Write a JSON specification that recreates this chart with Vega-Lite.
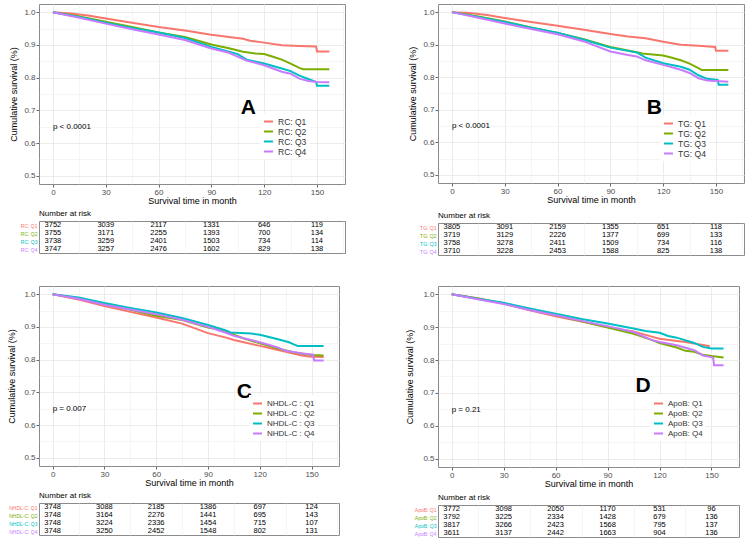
{
"$schema": "https://vega.github.io/schema/vega-lite/v6.json",
"padding": {"left": 7, "top": 3, "right": 0, "bottom": 0},
"config": {
  "font": "Liberation Sans",
  "view": {"stroke": "#8a8a8a", "strokeWidth": 1},
  "axis": {"labelFontSize": 8, "labelColor": "#4d4d4d", "titleFontSize": 9, "titleFontWeight": "normal", "titleColor": "#000000", "tickColor": "#666666", "tickSize": 3, "domain": false, "gridColor": "#ebebeb", "labelPadding": 1, "labelOverlap": false, "labelFlush": false},
  "legend": {"title": null, "symbolType": "stroke", "symbolStrokeWidth": 2, "symbolSize": 81, "labelFontSize": 8.5, "labelColor": "#333333", "rowPadding": 0, "labelOffset": 4, "fillColor": "white", "padding": 3, "orient": "none"},
  "title": {"fontSize": 8, "fontWeight": "normal", "color": "#000000", "anchor": "start", "frame": "group", "offset": 3}
},
"datasets": {
  "curves": [
    {"p":"A","g":"RC: Q1","t":0,"s":1},{"p":"A","g":"RC: Q1","t":10,"s":0.996},{"p":"A","g":"RC: Q1","t":20,"s":0.99},{"p":"A","g":"RC: Q1","t":30,"s":0.981},{"p":"A","g":"RC: Q1","t":45,"s":0.968},{"p":"A","g":"RC: Q1","t":60,"s":0.955},{"p":"A","g":"RC: Q1","t":75,"s":0.944},{"p":"A","g":"RC: Q1","t":90,"s":0.931},{"p":"A","g":"RC: Q1","t":100,"s":0.924},{"p":"A","g":"RC: Q1","t":108,"s":0.919},{"p":"A","g":"RC: Q1","t":112,"s":0.913},{"p":"A","g":"RC: Q1","t":120,"s":0.907},{"p":"A","g":"RC: Q1","t":130,"s":0.899},{"p":"A","g":"RC: Q1","t":140,"s":0.897},{"p":"A","g":"RC: Q1","t":149.5,"s":0.895},{"p":"A","g":"RC: Q1","t":150,"s":0.88},{"p":"A","g":"RC: Q1","t":157,"s":0.88},
    {"p":"A","g":"RC: Q2","t":0,"s":1},{"p":"A","g":"RC: Q2","t":15,"s":0.987},{"p":"A","g":"RC: Q2","t":30,"s":0.971},{"p":"A","g":"RC: Q2","t":45,"s":0.955},{"p":"A","g":"RC: Q2","t":60,"s":0.938},{"p":"A","g":"RC: Q2","t":75,"s":0.924},{"p":"A","g":"RC: Q2","t":90,"s":0.901},{"p":"A","g":"RC: Q2","t":100,"s":0.89},{"p":"A","g":"RC: Q2","t":108,"s":0.879},{"p":"A","g":"RC: Q2","t":115,"s":0.874},{"p":"A","g":"RC: Q2","t":120,"s":0.872},{"p":"A","g":"RC: Q2","t":125,"s":0.864},{"p":"A","g":"RC: Q2","t":130,"s":0.855},{"p":"A","g":"RC: Q2","t":135,"s":0.843},{"p":"A","g":"RC: Q2","t":140,"s":0.83},{"p":"A","g":"RC: Q2","t":142,"s":0.826},{"p":"A","g":"RC: Q2","t":157,"s":0.826},
    {"p":"A","g":"RC: Q3","t":0,"s":1},{"p":"A","g":"RC: Q3","t":15,"s":0.985},{"p":"A","g":"RC: Q3","t":30,"s":0.968},{"p":"A","g":"RC: Q3","t":45,"s":0.952},{"p":"A","g":"RC: Q3","t":60,"s":0.938},{"p":"A","g":"RC: Q3","t":75,"s":0.921},{"p":"A","g":"RC: Q3","t":90,"s":0.894},{"p":"A","g":"RC: Q3","t":100,"s":0.879},{"p":"A","g":"RC: Q3","t":105,"s":0.872},{"p":"A","g":"RC: Q3","t":110,"s":0.855},{"p":"A","g":"RC: Q3","t":120,"s":0.843},{"p":"A","g":"RC: Q3","t":130,"s":0.828},{"p":"A","g":"RC: Q3","t":135,"s":0.82},{"p":"A","g":"RC: Q3","t":140,"s":0.806},{"p":"A","g":"RC: Q3","t":145,"s":0.796},{"p":"A","g":"RC: Q3","t":149.5,"s":0.787},{"p":"A","g":"RC: Q3","t":150,"s":0.775},{"p":"A","g":"RC: Q3","t":157,"s":0.775},
    {"p":"A","g":"RC: Q4","t":0,"s":1},{"p":"A","g":"RC: Q4","t":15,"s":0.983},{"p":"A","g":"RC: Q4","t":30,"s":0.965},{"p":"A","g":"RC: Q4","t":45,"s":0.948},{"p":"A","g":"RC: Q4","t":60,"s":0.932},{"p":"A","g":"RC: Q4","t":75,"s":0.915},{"p":"A","g":"RC: Q4","t":90,"s":0.889},{"p":"A","g":"RC: Q4","t":100,"s":0.876},{"p":"A","g":"RC: Q4","t":110,"s":0.852},{"p":"A","g":"RC: Q4","t":120,"s":0.838},{"p":"A","g":"RC: Q4","t":130,"s":0.818},{"p":"A","g":"RC: Q4","t":135,"s":0.812},{"p":"A","g":"RC: Q4","t":140,"s":0.797},{"p":"A","g":"RC: Q4","t":145,"s":0.79},{"p":"A","g":"RC: Q4","t":150,"s":0.787},{"p":"A","g":"RC: Q4","t":157,"s":0.786},

    {"p":"B","g":"TG: Q1","t":0,"s":1},{"p":"B","g":"TG: Q1","t":10,"s":0.997},{"p":"B","g":"TG: Q1","t":20,"s":0.991},{"p":"B","g":"TG: Q1","t":30,"s":0.982},{"p":"B","g":"TG: Q1","t":45,"s":0.97},{"p":"B","g":"TG: Q1","t":60,"s":0.958},{"p":"B","g":"TG: Q1","t":75,"s":0.946},{"p":"B","g":"TG: Q1","t":90,"s":0.933},{"p":"B","g":"TG: Q1","t":100,"s":0.925},{"p":"B","g":"TG: Q1","t":110,"s":0.92},{"p":"B","g":"TG: Q1","t":120,"s":0.909},{"p":"B","g":"TG: Q1","t":130,"s":0.9},{"p":"B","g":"TG: Q1","t":140,"s":0.897},{"p":"B","g":"TG: Q1","t":149.5,"s":0.893},{"p":"B","g":"TG: Q1","t":150,"s":0.881},{"p":"B","g":"TG: Q1","t":157,"s":0.881},
    {"p":"B","g":"TG: Q2","t":0,"s":1},{"p":"B","g":"TG: Q2","t":15,"s":0.987},{"p":"B","g":"TG: Q2","t":30,"s":0.971},{"p":"B","g":"TG: Q2","t":45,"s":0.953},{"p":"B","g":"TG: Q2","t":60,"s":0.936},{"p":"B","g":"TG: Q2","t":75,"s":0.917},{"p":"B","g":"TG: Q2","t":90,"s":0.893},{"p":"B","g":"TG: Q2","t":100,"s":0.882},{"p":"B","g":"TG: Q2","t":105,"s":0.877},{"p":"B","g":"TG: Q2","t":108,"s":0.873},{"p":"B","g":"TG: Q2","t":120,"s":0.867},{"p":"B","g":"TG: Q2","t":125,"s":0.86},{"p":"B","g":"TG: Q2","t":130,"s":0.852},{"p":"B","g":"TG: Q2","t":135,"s":0.842},{"p":"B","g":"TG: Q2","t":140,"s":0.828},{"p":"B","g":"TG: Q2","t":142,"s":0.822},{"p":"B","g":"TG: Q2","t":157,"s":0.822},
    {"p":"B","g":"TG: Q3","t":0,"s":1},{"p":"B","g":"TG: Q3","t":15,"s":0.985},{"p":"B","g":"TG: Q3","t":30,"s":0.97},{"p":"B","g":"TG: Q3","t":45,"s":0.952},{"p":"B","g":"TG: Q3","t":60,"s":0.937},{"p":"B","g":"TG: Q3","t":75,"s":0.915},{"p":"B","g":"TG: Q3","t":90,"s":0.891},{"p":"B","g":"TG: Q3","t":100,"s":0.881},{"p":"B","g":"TG: Q3","t":105,"s":0.876},{"p":"B","g":"TG: Q3","t":110,"s":0.86},{"p":"B","g":"TG: Q3","t":120,"s":0.843},{"p":"B","g":"TG: Q3","t":130,"s":0.832},{"p":"B","g":"TG: Q3","t":135,"s":0.823},{"p":"B","g":"TG: Q3","t":140,"s":0.806},{"p":"B","g":"TG: Q3","t":145,"s":0.795},{"p":"B","g":"TG: Q3","t":151,"s":0.792},{"p":"B","g":"TG: Q3","t":151.5,"s":0.777},{"p":"B","g":"TG: Q3","t":157,"s":0.777},
    {"p":"B","g":"TG: Q4","t":0,"s":1},{"p":"B","g":"TG: Q4","t":15,"s":0.983},{"p":"B","g":"TG: Q4","t":30,"s":0.965},{"p":"B","g":"TG: Q4","t":45,"s":0.948},{"p":"B","g":"TG: Q4","t":60,"s":0.932},{"p":"B","g":"TG: Q4","t":75,"s":0.91},{"p":"B","g":"TG: Q4","t":90,"s":0.879},{"p":"B","g":"TG: Q4","t":100,"s":0.868},{"p":"B","g":"TG: Q4","t":105,"s":0.864},{"p":"B","g":"TG: Q4","t":110,"s":0.852},{"p":"B","g":"TG: Q4","t":120,"s":0.838},{"p":"B","g":"TG: Q4","t":130,"s":0.823},{"p":"B","g":"TG: Q4","t":135,"s":0.813},{"p":"B","g":"TG: Q4","t":140,"s":0.797},{"p":"B","g":"TG: Q4","t":145,"s":0.79},{"p":"B","g":"TG: Q4","t":157,"s":0.786},

    {"p":"C","g":"NHDL-C : Q1","t":0,"s":1},{"p":"C","g":"NHDL-C : Q1","t":15,"s":0.984},{"p":"C","g":"NHDL-C : Q1","t":30,"s":0.964},{"p":"C","g":"NHDL-C : Q1","t":45,"s":0.946},{"p":"C","g":"NHDL-C : Q1","t":60,"s":0.929},{"p":"C","g":"NHDL-C : Q1","t":75,"s":0.91},{"p":"C","g":"NHDL-C : Q1","t":90,"s":0.881},{"p":"C","g":"NHDL-C : Q1","t":100,"s":0.868},{"p":"C","g":"NHDL-C : Q1","t":105,"s":0.86},{"p":"C","g":"NHDL-C : Q1","t":120,"s":0.842},{"p":"C","g":"NHDL-C : Q1","t":130,"s":0.83},{"p":"C","g":"NHDL-C : Q1","t":135,"s":0.824},{"p":"C","g":"NHDL-C : Q1","t":145,"s":0.812},{"p":"C","g":"NHDL-C : Q1","t":150,"s":0.809},{"p":"C","g":"NHDL-C : Q1","t":157,"s":0.808},
    {"p":"C","g":"NHDL-C : Q2","t":0,"s":1},{"p":"C","g":"NHDL-C : Q2","t":15,"s":0.988},{"p":"C","g":"NHDL-C : Q2","t":30,"s":0.97},{"p":"C","g":"NHDL-C : Q2","t":45,"s":0.952},{"p":"C","g":"NHDL-C : Q2","t":60,"s":0.934},{"p":"C","g":"NHDL-C : Q2","t":75,"s":0.921},{"p":"C","g":"NHDL-C : Q2","t":90,"s":0.898},{"p":"C","g":"NHDL-C : Q2","t":100,"s":0.888},{"p":"C","g":"NHDL-C : Q2","t":105,"s":0.876},{"p":"C","g":"NHDL-C : Q2","t":110,"s":0.866},{"p":"C","g":"NHDL-C : Q2","t":120,"s":0.85},{"p":"C","g":"NHDL-C : Q2","t":130,"s":0.835},{"p":"C","g":"NHDL-C : Q2","t":140,"s":0.822},{"p":"C","g":"NHDL-C : Q2","t":150,"s":0.814},{"p":"C","g":"NHDL-C : Q2","t":157,"s":0.813},
    {"p":"C","g":"NHDL-C : Q3","t":0,"s":1},{"p":"C","g":"NHDL-C : Q3","t":15,"s":0.99},{"p":"C","g":"NHDL-C : Q3","t":30,"s":0.973},{"p":"C","g":"NHDL-C : Q3","t":45,"s":0.958},{"p":"C","g":"NHDL-C : Q3","t":60,"s":0.944},{"p":"C","g":"NHDL-C : Q3","t":75,"s":0.927},{"p":"C","g":"NHDL-C : Q3","t":90,"s":0.906},{"p":"C","g":"NHDL-C : Q3","t":100,"s":0.89},{"p":"C","g":"NHDL-C : Q3","t":103,"s":0.883},{"p":"C","g":"NHDL-C : Q3","t":115,"s":0.88},{"p":"C","g":"NHDL-C : Q3","t":120,"s":0.876},{"p":"C","g":"NHDL-C : Q3","t":130,"s":0.863},{"p":"C","g":"NHDL-C : Q3","t":137,"s":0.853},{"p":"C","g":"NHDL-C : Q3","t":140,"s":0.846},{"p":"C","g":"NHDL-C : Q3","t":142,"s":0.842},{"p":"C","g":"NHDL-C : Q3","t":157,"s":0.842},
    {"p":"C","g":"NHDL-C : Q4","t":0,"s":1},{"p":"C","g":"NHDL-C : Q4","t":15,"s":0.986},{"p":"C","g":"NHDL-C : Q4","t":30,"s":0.968},{"p":"C","g":"NHDL-C : Q4","t":45,"s":0.953},{"p":"C","g":"NHDL-C : Q4","t":60,"s":0.939},{"p":"C","g":"NHDL-C : Q4","t":75,"s":0.922},{"p":"C","g":"NHDL-C : Q4","t":90,"s":0.9},{"p":"C","g":"NHDL-C : Q4","t":100,"s":0.883},{"p":"C","g":"NHDL-C : Q4","t":105,"s":0.873},{"p":"C","g":"NHDL-C : Q4","t":120,"s":0.853},{"p":"C","g":"NHDL-C : Q4","t":130,"s":0.838},{"p":"C","g":"NHDL-C : Q4","t":135,"s":0.827},{"p":"C","g":"NHDL-C : Q4","t":145,"s":0.819},{"p":"C","g":"NHDL-C : Q4","t":151,"s":0.815},{"p":"C","g":"NHDL-C : Q4","t":151.5,"s":0.797},{"p":"C","g":"NHDL-C : Q4","t":157,"s":0.797},

    {"p":"D","g":"ApoB: Q1","t":0,"s":1},{"p":"D","g":"ApoB: Q1","t":15,"s":0.988},{"p":"D","g":"ApoB: Q1","t":30,"s":0.972},{"p":"D","g":"ApoB: Q1","t":45,"s":0.951},{"p":"D","g":"ApoB: Q1","t":60,"s":0.933},{"p":"D","g":"ApoB: Q1","t":75,"s":0.917},{"p":"D","g":"ApoB: Q1","t":90,"s":0.9},{"p":"D","g":"ApoB: Q1","t":105,"s":0.887},{"p":"D","g":"ApoB: Q1","t":115,"s":0.872},{"p":"D","g":"ApoB: Q1","t":120,"s":0.865},{"p":"D","g":"ApoB: Q1","t":130,"s":0.858},{"p":"D","g":"ApoB: Q1","t":135,"s":0.855},{"p":"D","g":"ApoB: Q1","t":145,"s":0.846},{"p":"D","g":"ApoB: Q1","t":149,"s":0.842},
    {"p":"D","g":"ApoB: Q2","t":0,"s":1},{"p":"D","g":"ApoB: Q2","t":15,"s":0.987},{"p":"D","g":"ApoB: Q2","t":30,"s":0.972},{"p":"D","g":"ApoB: Q2","t":45,"s":0.954},{"p":"D","g":"ApoB: Q2","t":60,"s":0.936},{"p":"D","g":"ApoB: Q2","t":75,"s":0.918},{"p":"D","g":"ApoB: Q2","t":90,"s":0.899},{"p":"D","g":"ApoB: Q2","t":105,"s":0.88},{"p":"D","g":"ApoB: Q2","t":115,"s":0.862},{"p":"D","g":"ApoB: Q2","t":120,"s":0.852},{"p":"D","g":"ApoB: Q2","t":130,"s":0.838},{"p":"D","g":"ApoB: Q2","t":135,"s":0.828},{"p":"D","g":"ApoB: Q2","t":140,"s":0.825},{"p":"D","g":"ApoB: Q2","t":145,"s":0.816},{"p":"D","g":"ApoB: Q2","t":150,"s":0.812},{"p":"D","g":"ApoB: Q2","t":157,"s":0.808},
    {"p":"D","g":"ApoB: Q3","t":0,"s":1},{"p":"D","g":"ApoB: Q3","t":15,"s":0.986},{"p":"D","g":"ApoB: Q3","t":30,"s":0.974},{"p":"D","g":"ApoB: Q3","t":45,"s":0.957},{"p":"D","g":"ApoB: Q3","t":60,"s":0.941},{"p":"D","g":"ApoB: Q3","t":75,"s":0.925},{"p":"D","g":"ApoB: Q3","t":90,"s":0.911},{"p":"D","g":"ApoB: Q3","t":105,"s":0.896},{"p":"D","g":"ApoB: Q3","t":112,"s":0.888},{"p":"D","g":"ApoB: Q3","t":120,"s":0.883},{"p":"D","g":"ApoB: Q3","t":125,"s":0.873},{"p":"D","g":"ApoB: Q3","t":130,"s":0.868},{"p":"D","g":"ApoB: Q3","t":140,"s":0.852},{"p":"D","g":"ApoB: Q3","t":145,"s":0.84},{"p":"D","g":"ApoB: Q3","t":150,"s":0.835},{"p":"D","g":"ApoB: Q3","t":157,"s":0.835},
    {"p":"D","g":"ApoB: Q4","t":0,"s":1},{"p":"D","g":"ApoB: Q4","t":15,"s":0.985},{"p":"D","g":"ApoB: Q4","t":30,"s":0.97},{"p":"D","g":"ApoB: Q4","t":45,"s":0.952},{"p":"D","g":"ApoB: Q4","t":60,"s":0.936},{"p":"D","g":"ApoB: Q4","t":75,"s":0.919},{"p":"D","g":"ApoB: Q4","t":90,"s":0.903},{"p":"D","g":"ApoB: Q4","t":105,"s":0.885},{"p":"D","g":"ApoB: Q4","t":115,"s":0.862},{"p":"D","g":"ApoB: Q4","t":120,"s":0.855},{"p":"D","g":"ApoB: Q4","t":130,"s":0.845},{"p":"D","g":"ApoB: Q4","t":140,"s":0.83},{"p":"D","g":"ApoB: Q4","t":145,"s":0.814},{"p":"D","g":"ApoB: Q4","t":150,"s":0.809},{"p":"D","g":"ApoB: Q4","t":151,"s":0.806},{"p":"D","g":"ApoB: Q4","t":151.5,"s":0.784},{"p":"D","g":"ApoB: Q4","t":157,"s":0.784}
  ],
  "notes": [
    {"p":"A","k":"p","t":0,"s":0.649,"label":"p < 0.0001"},{"p":"A","k":"letter","t":111,"s":0.706,"label":"A"},
    {"p":"B","k":"p","t":0,"s":0.65,"label":"p < 0.0001"},{"p":"B","k":"letter","t":115,"s":0.706,"label":"B"},
    {"p":"C","k":"p","t":0,"s":0.649,"label":"p = 0.007"},{"p":"C","k":"letter","t":111,"s":0.702,"label":"C"},
    {"p":"D","k":"p","t":0,"s":0.648,"label":"p = 0.21"},{"p":"D","k":"letter","t":110.5,"s":0.722,"label":"D"}
  ],
  "risk": [
    {"p":"A","g":"RC: Q1","t":0,"n":3752},{"p":"A","g":"RC: Q1","t":30,"n":3039},{"p":"A","g":"RC: Q1","t":60,"n":2117},{"p":"A","g":"RC: Q1","t":90,"n":1331},{"p":"A","g":"RC: Q1","t":120,"n":646},{"p":"A","g":"RC: Q1","t":150,"n":119},
    {"p":"A","g":"RC: Q2","t":0,"n":3755},{"p":"A","g":"RC: Q2","t":30,"n":3171},{"p":"A","g":"RC: Q2","t":60,"n":2255},{"p":"A","g":"RC: Q2","t":90,"n":1393},{"p":"A","g":"RC: Q2","t":120,"n":700},{"p":"A","g":"RC: Q2","t":150,"n":134},
    {"p":"A","g":"RC: Q3","t":0,"n":3738},{"p":"A","g":"RC: Q3","t":30,"n":3259},{"p":"A","g":"RC: Q3","t":60,"n":2401},{"p":"A","g":"RC: Q3","t":90,"n":1503},{"p":"A","g":"RC: Q3","t":120,"n":734},{"p":"A","g":"RC: Q3","t":150,"n":114},
    {"p":"A","g":"RC: Q4","t":0,"n":3747},{"p":"A","g":"RC: Q4","t":30,"n":3257},{"p":"A","g":"RC: Q4","t":60,"n":2476},{"p":"A","g":"RC: Q4","t":90,"n":1602},{"p":"A","g":"RC: Q4","t":120,"n":829},{"p":"A","g":"RC: Q4","t":150,"n":138},
    {"p":"B","g":"TG: Q1","t":0,"n":3805},{"p":"B","g":"TG: Q1","t":30,"n":3091},{"p":"B","g":"TG: Q1","t":60,"n":2159},{"p":"B","g":"TG: Q1","t":90,"n":1355},{"p":"B","g":"TG: Q1","t":120,"n":651},{"p":"B","g":"TG: Q1","t":150,"n":118},
    {"p":"B","g":"TG: Q2","t":0,"n":3719},{"p":"B","g":"TG: Q2","t":30,"n":3129},{"p":"B","g":"TG: Q2","t":60,"n":2226},{"p":"B","g":"TG: Q2","t":90,"n":1377},{"p":"B","g":"TG: Q2","t":120,"n":699},{"p":"B","g":"TG: Q2","t":150,"n":133},
    {"p":"B","g":"TG: Q3","t":0,"n":3758},{"p":"B","g":"TG: Q3","t":30,"n":3278},{"p":"B","g":"TG: Q3","t":60,"n":2411},{"p":"B","g":"TG: Q3","t":90,"n":1509},{"p":"B","g":"TG: Q3","t":120,"n":734},{"p":"B","g":"TG: Q3","t":150,"n":116},
    {"p":"B","g":"TG: Q4","t":0,"n":3710},{"p":"B","g":"TG: Q4","t":30,"n":3228},{"p":"B","g":"TG: Q4","t":60,"n":2453},{"p":"B","g":"TG: Q4","t":90,"n":1588},{"p":"B","g":"TG: Q4","t":120,"n":825},{"p":"B","g":"TG: Q4","t":150,"n":138},
    {"p":"C","g":"NHDL-C: Q1","t":0,"n":3748},{"p":"C","g":"NHDL-C: Q1","t":30,"n":3088},{"p":"C","g":"NHDL-C: Q1","t":60,"n":2185},{"p":"C","g":"NHDL-C: Q1","t":90,"n":1386},{"p":"C","g":"NHDL-C: Q1","t":120,"n":697},{"p":"C","g":"NHDL-C: Q1","t":150,"n":124},
    {"p":"C","g":"NHDL-C: Q2","t":0,"n":3748},{"p":"C","g":"NHDL-C: Q2","t":30,"n":3164},{"p":"C","g":"NHDL-C: Q2","t":60,"n":2276},{"p":"C","g":"NHDL-C: Q2","t":90,"n":1441},{"p":"C","g":"NHDL-C: Q2","t":120,"n":695},{"p":"C","g":"NHDL-C: Q2","t":150,"n":143},
    {"p":"C","g":"NHDL-C: Q3","t":0,"n":3748},{"p":"C","g":"NHDL-C: Q3","t":30,"n":3224},{"p":"C","g":"NHDL-C: Q3","t":60,"n":2336},{"p":"C","g":"NHDL-C: Q3","t":90,"n":1454},{"p":"C","g":"NHDL-C: Q3","t":120,"n":715},{"p":"C","g":"NHDL-C: Q3","t":150,"n":107},
    {"p":"C","g":"NHDL-C: Q4","t":0,"n":3748},{"p":"C","g":"NHDL-C: Q4","t":30,"n":3250},{"p":"C","g":"NHDL-C: Q4","t":60,"n":2452},{"p":"C","g":"NHDL-C: Q4","t":90,"n":1548},{"p":"C","g":"NHDL-C: Q4","t":120,"n":802},{"p":"C","g":"NHDL-C: Q4","t":150,"n":131},
    {"p":"D","g":"ApoB: Q1","t":0,"n":3772},{"p":"D","g":"ApoB: Q1","t":30,"n":3098},{"p":"D","g":"ApoB: Q1","t":60,"n":2050},{"p":"D","g":"ApoB: Q1","t":90,"n":1170},{"p":"D","g":"ApoB: Q1","t":120,"n":531},{"p":"D","g":"ApoB: Q1","t":150,"n":96},
    {"p":"D","g":"ApoB: Q2","t":0,"n":3792},{"p":"D","g":"ApoB: Q2","t":30,"n":3225},{"p":"D","g":"ApoB: Q2","t":60,"n":2334},{"p":"D","g":"ApoB: Q2","t":90,"n":1428},{"p":"D","g":"ApoB: Q2","t":120,"n":679},{"p":"D","g":"ApoB: Q2","t":150,"n":136},
    {"p":"D","g":"ApoB: Q3","t":0,"n":3817},{"p":"D","g":"ApoB: Q3","t":30,"n":3266},{"p":"D","g":"ApoB: Q3","t":60,"n":2423},{"p":"D","g":"ApoB: Q3","t":90,"n":1568},{"p":"D","g":"ApoB: Q3","t":120,"n":795},{"p":"D","g":"ApoB: Q3","t":150,"n":137},
    {"p":"D","g":"ApoB: Q4","t":0,"n":3611},{"p":"D","g":"ApoB: Q4","t":30,"n":3137},{"p":"D","g":"ApoB: Q4","t":60,"n":2442},{"p":"D","g":"ApoB: Q4","t":90,"n":1663},{"p":"D","g":"ApoB: Q4","t":120,"n":904},{"p":"D","g":"ApoB: Q4","t":150,"n":136}
  ]
},
"resolve": {"scale": {"color": "independent", "x": "independent", "y": "independent"}, "legend": {"color": "independent"}},
"spacing": 59,
"hconcat": [
  {
    "spacing": 31,
    "resolve": {"scale": {"color": "independent", "x": "independent", "y": "independent"}, "legend": {"color": "independent"}},
    "vconcat": [
      {
        "spacing": 3,
        "resolve": {"scale": {"color": "independent", "x": "independent", "y": "independent"}, "legend": {"color": "independent"}},
        "vconcat": [
          {
            "width": 306, "height": 180,
            "layer": [
              {
                "data": {"name": "curves"}, "transform": [{"filter": "datum.p == 'A'"}],
                "mark": {"type": "line", "strokeWidth": 2},
                "encoding": {
                  "x": {"field": "t", "type": "quantitative", "scale": {"domain": [-7.9, 165.9], "nice": false, "zero": false},
                        "axis": {"values": [0,15,30,45,60,75,90,105,120,135,150,165], "tickCount": 100, "labelOverlap": false, "labelExpr": "datum.value % 30 == 0 ? datum.label : ''", "tickColor": {"condition": {"test": "datum.value % 30 != 0", "value": "transparent"}, "value": "#666666"}, "gridWidth": {"condition": {"test": "datum.value % 30 != 0", "value": 0.5}, "value": 1}, "title": "Survival time in month", "titlePadding": 0}},
                  "y": {"field": "s", "type": "quantitative", "scale": {"domain": [0.475, 1.025], "nice": false, "zero": false},
                        "axis": {"values": [0.5,0.55,0.6,0.65,0.7,0.75,0.8,0.85,0.9,0.95,1.0], "tickCount": 100, "labelOverlap": false, "labelExpr": "round(datum.value*100) % 10 == 0 ? format(datum.value, '.1f') : ''", "tickColor": {"condition": {"test": "round(datum.value*100) % 10 != 0", "value": "transparent"}, "value": "#666666"}, "gridWidth": {"condition": {"test": "round(datum.value*100) % 10 != 0", "value": 0.5}, "value": 1}, "title": "Cumulative survival (%)", "titlePadding": 5}},
                  "color": {"field": "g", "type": "nominal", "scale": {"domain": ["RC: Q1","RC: Q2","RC: Q3","RC: Q4"], "range": ["#F8766D","#7CAE00","#00BFC4","#C77CFF"]}, "legend": {"legendX": 221, "legendY": 109}}
                }
              },
              {
                "data": {"name": "notes"}, "transform": [{"filter": "datum.p == 'A' && datum.k == 'p'"}],
                "mark": {"type": "text", "align": "left", "baseline": "middle", "fontSize": 8, "color": "#000000"},
                "encoding": {"x": {"field": "t", "type": "quantitative"}, "y": {"field": "s", "type": "quantitative"}, "text": {"field": "label", "type": "nominal"}}
              },
              {
                "data": {"name": "notes"}, "transform": [{"filter": "datum.p == 'A' && datum.k == 'letter'"}],
                "mark": {"type": "text", "align": "center", "baseline": "middle", "fontSize": 21, "fontWeight": "bold", "color": "#000000"},
                "encoding": {"x": {"field": "t", "type": "quantitative"}, "y": {"field": "s", "type": "quantitative"}, "text": {"field": "label", "type": "nominal"}}
              }
            ]
          },
          {
            "width": 306, "height": 32,
            "title": {"text": "Number at risk"},
            "data": {"name": "risk"}, "transform": [{"filter": "datum.p == 'A'"}],
            "mark": {"type": "text", "fontSize": 7.5, "color": "#000000", "baseline": "middle"},
            "encoding": {
              "x": {"field": "t", "type": "quantitative", "scale": {"domain": [-7.9, 165.9], "nice": false, "zero": false}, "axis": {"values": [0,15,30,45,60,75,90,105,120,135,150,165], "tickCount": 100, "labels": false, "ticks": false, "domain": false, "title": null, "grid": true, "gridColor": "#eeeeee", "gridWidth": 0.6}},
              "y": {"field": "g", "type": "nominal", "scale": {"type": "point", "padding": 0.5, "domain": ["RC: Q1","RC: Q2","RC: Q3","RC: Q4"]}, "axis": {"title": null, "ticks": false, "domain": false, "grid": false, "labelFontSize": 5, "labelPadding": 2, "labelColor": {"expr": "indexof(datum.value,'Q1')>=0 ? '#F8766D' : indexof(datum.value,'Q2')>=0 ? '#7CAE00' : indexof(datum.value,'Q3')>=0 ? '#00BFC4' : '#C77CFF'"}}},
              "text": {"field": "n", "type": "quantitative", "format": "d"}
            }
          }
        ]
      },
      {
        "spacing": 3,
        "resolve": {"scale": {"color": "independent", "x": "independent", "y": "independent"}, "legend": {"color": "independent"}},
        "vconcat": [
          {
            "width": 300, "height": 180,
            "layer": [
              {
                "data": {"name": "curves"}, "transform": [{"filter": "datum.p == 'C'"}],
                "mark": {"type": "line", "strokeWidth": 2},
                "encoding": {
                  "x": {"field": "t", "type": "quantitative", "scale": {"domain": [-7.9, 165.9], "nice": false, "zero": false},
                        "axis": {"values": [0,15,30,45,60,75,90,105,120,135,150,165], "tickCount": 100, "labelOverlap": false, "labelExpr": "datum.value % 30 == 0 ? datum.label : ''", "tickColor": {"condition": {"test": "datum.value % 30 != 0", "value": "transparent"}, "value": "#666666"}, "gridWidth": {"condition": {"test": "datum.value % 30 != 0", "value": 0.5}, "value": 1}, "title": "Survival time in month", "titlePadding": 0}},
                  "y": {"field": "s", "type": "quantitative", "scale": {"domain": [0.475, 1.025], "nice": false, "zero": false},
                        "axis": {"values": [0.5,0.55,0.6,0.65,0.7,0.75,0.8,0.85,0.9,0.95,1.0], "tickCount": 100, "labelOverlap": false, "labelExpr": "round(datum.value*100) % 10 == 0 ? format(datum.value, '.1f') : ''", "tickColor": {"condition": {"test": "round(datum.value*100) % 10 != 0", "value": "transparent"}, "value": "#666666"}, "gridWidth": {"condition": {"test": "round(datum.value*100) % 10 != 0", "value": 0.5}, "value": 1}, "title": "Cumulative survival (%)", "titlePadding": 7}},
                  "color": {"field": "g", "type": "nominal", "scale": {"domain": ["NHDL-C : Q1","NHDL-C : Q2","NHDL-C : Q3","NHDL-C : Q4"], "range": ["#F8766D","#7CAE00","#00BFC4","#C77CFF"]}, "legend": {"legendX": 210, "legendY": 109, "labelFontSize": 8}}
                }
              },
              {
                "data": {"name": "notes"}, "transform": [{"filter": "datum.p == 'C' && datum.k == 'p'"}],
                "mark": {"type": "text", "align": "left", "baseline": "middle", "fontSize": 8, "color": "#000000"},
                "encoding": {"x": {"field": "t", "type": "quantitative"}, "y": {"field": "s", "type": "quantitative"}, "text": {"field": "label", "type": "nominal"}}
              },
              {
                "data": {"name": "notes"}, "transform": [{"filter": "datum.p == 'C' && datum.k == 'letter'"}],
                "mark": {"type": "text", "align": "center", "baseline": "middle", "fontSize": 21, "fontWeight": "bold", "color": "#000000"},
                "encoding": {"x": {"field": "t", "type": "quantitative"}, "y": {"field": "s", "type": "quantitative"}, "text": {"field": "label", "type": "nominal"}}
              }
            ]
          },
          {
            "width": 300, "height": 32,
            "title": {"text": "Number at risk"},
            "data": {"name": "risk"}, "transform": [{"filter": "datum.p == 'C'"}],
            "mark": {"type": "text", "fontSize": 7.5, "color": "#000000", "baseline": "middle"},
            "encoding": {
              "x": {"field": "t", "type": "quantitative", "scale": {"domain": [-7.9, 165.9], "nice": false, "zero": false}, "axis": {"values": [0,15,30,45,60,75,90,105,120,135,150,165], "tickCount": 100, "labels": false, "ticks": false, "domain": false, "title": null, "grid": true, "gridColor": "#eeeeee", "gridWidth": 0.6}},
              "y": {"field": "g", "type": "nominal", "scale": {"type": "point", "padding": 0.5, "domain": ["NHDL-C: Q1","NHDL-C: Q2","NHDL-C: Q3","NHDL-C: Q4"]}, "axis": {"title": null, "ticks": false, "domain": false, "grid": false, "labelFontSize": 5, "labelPadding": 2, "labelColor": {"expr": "indexof(datum.value,'Q1')>=0 ? '#F8766D' : indexof(datum.value,'Q2')>=0 ? '#7CAE00' : indexof(datum.value,'Q3')>=0 ? '#00BFC4' : '#C77CFF'"}}},
              "text": {"field": "n", "type": "quantitative", "format": "d"}
            }
          }
        ]
      }
    ]
  },
  {
    "spacing": 29,
    "resolve": {"scale": {"color": "independent", "x": "independent", "y": "independent"}, "legend": {"color": "independent"}},
    "vconcat": [
      {
        "spacing": 6,
        "resolve": {"scale": {"color": "independent", "x": "independent", "y": "independent"}, "legend": {"color": "independent"}},
        "vconcat": [
          {
            "width": 306, "height": 179,
            "layer": [
              {
                "data": {"name": "curves"}, "transform": [{"filter": "datum.p == 'B'"}],
                "mark": {"type": "line", "strokeWidth": 2},
                "encoding": {
                  "x": {"field": "t", "type": "quantitative", "scale": {"domain": [-7.9, 165.9], "nice": false, "zero": false},
                        "axis": {"values": [0,15,30,45,60,75,90,105,120,135,150,165], "tickCount": 100, "labelOverlap": false, "labelExpr": "datum.value % 30 == 0 ? datum.label : ''", "tickColor": {"condition": {"test": "datum.value % 30 != 0", "value": "transparent"}, "value": "#666666"}, "gridWidth": {"condition": {"test": "datum.value % 30 != 0", "value": 0.5}, "value": 1}, "title": "Survival time in month", "titlePadding": 0}},
                  "y": {"field": "s", "type": "quantitative", "scale": {"domain": [0.475, 1.025], "nice": false, "zero": false},
                        "axis": {"values": [0.5,0.55,0.6,0.65,0.7,0.75,0.8,0.85,0.9,0.95,1.0], "tickCount": 100, "labelOverlap": false, "labelExpr": "round(datum.value*100) % 10 == 0 ? format(datum.value, '.1f') : ''", "tickColor": {"condition": {"test": "round(datum.value*100) % 10 != 0", "value": "transparent"}, "value": "#666666"}, "gridWidth": {"condition": {"test": "round(datum.value*100) % 10 != 0", "value": 0.5}, "value": 1}, "title": "Cumulative survival (%)", "titlePadding": 5}},
                  "color": {"field": "g", "type": "nominal", "scale": {"domain": ["TG: Q1","TG: Q2","TG: Q3","TG: Q4"], "range": ["#F8766D","#7CAE00","#00BFC4","#C77CFF"]}, "legend": {"legendX": 222, "legendY": 111}}
                }
              },
              {
                "data": {"name": "notes"}, "transform": [{"filter": "datum.p == 'B' && datum.k == 'p'"}],
                "mark": {"type": "text", "align": "left", "baseline": "middle", "fontSize": 8, "color": "#000000"},
                "encoding": {"x": {"field": "t", "type": "quantitative"}, "y": {"field": "s", "type": "quantitative"}, "text": {"field": "label", "type": "nominal"}}
              },
              {
                "data": {"name": "notes"}, "transform": [{"filter": "datum.p == 'B' && datum.k == 'letter'"}],
                "mark": {"type": "text", "align": "center", "baseline": "middle", "fontSize": 21, "fontWeight": "bold", "color": "#000000"},
                "encoding": {"x": {"field": "t", "type": "quantitative"}, "y": {"field": "s", "type": "quantitative"}, "text": {"field": "label", "type": "nominal"}}
              }
            ]
          },
          {
            "width": 306, "height": 32,
            "title": {"text": "Number at risk"},
            "data": {"name": "risk"}, "transform": [{"filter": "datum.p == 'B'"}],
            "mark": {"type": "text", "fontSize": 7.5, "color": "#000000", "baseline": "middle"},
            "encoding": {
              "x": {"field": "t", "type": "quantitative", "scale": {"domain": [-7.9, 165.9], "nice": false, "zero": false}, "axis": {"values": [0,15,30,45,60,75,90,105,120,135,150,165], "tickCount": 100, "labels": false, "ticks": false, "domain": false, "title": null, "grid": true, "gridColor": "#eeeeee", "gridWidth": 0.6}},
              "y": {"field": "g", "type": "nominal", "scale": {"type": "point", "padding": 0.5, "domain": ["TG: Q1","TG: Q2","TG: Q3","TG: Q4"]}, "axis": {"title": null, "ticks": false, "domain": false, "grid": false, "labelFontSize": 5, "labelPadding": 2, "labelColor": {"expr": "indexof(datum.value,'Q1')>=0 ? '#F8766D' : indexof(datum.value,'Q2')>=0 ? '#7CAE00' : indexof(datum.value,'Q3')>=0 ? '#00BFC4' : '#C77CFF'"}}},
              "text": {"field": "n", "type": "quantitative", "format": "d"}
            }
          }
        ]
      },
      {
        "spacing": 4,
        "resolve": {"scale": {"color": "independent", "x": "independent", "y": "independent"}, "legend": {"color": "independent"}},
        "vconcat": [
          {
            "width": 301, "height": 181,
            "layer": [
              {
                "data": {"name": "curves"}, "transform": [{"filter": "datum.p == 'D'"}],
                "mark": {"type": "line", "strokeWidth": 2},
                "encoding": {
                  "x": {"field": "t", "type": "quantitative", "scale": {"domain": [-7.9, 165.9], "nice": false, "zero": false},
                        "axis": {"values": [0,15,30,45,60,75,90,105,120,135,150,165], "tickCount": 100, "labelOverlap": false, "labelExpr": "datum.value % 30 == 0 ? datum.label : ''", "tickColor": {"condition": {"test": "datum.value % 30 != 0", "value": "transparent"}, "value": "#666666"}, "gridWidth": {"condition": {"test": "datum.value % 30 != 0", "value": 0.5}, "value": 1}, "title": "Survival time in month", "titlePadding": 0}},
                  "y": {"field": "s", "type": "quantitative", "scale": {"domain": [0.475, 1.025], "nice": false, "zero": false},
                        "axis": {"values": [0.5,0.55,0.6,0.65,0.7,0.75,0.8,0.85,0.9,0.95,1.0], "tickCount": 100, "labelOverlap": false, "labelExpr": "round(datum.value*100) % 10 == 0 ? format(datum.value, '.1f') : ''", "tickColor": {"condition": {"test": "round(datum.value*100) % 10 != 0", "value": "transparent"}, "value": "#666666"}, "gridWidth": {"condition": {"test": "round(datum.value*100) % 10 != 0", "value": 0.5}, "value": 1}, "title": "Cumulative survival (%)", "titlePadding": 8}},
                  "color": {"field": "g", "type": "nominal", "scale": {"domain": ["ApoB: Q1","ApoB: Q2","ApoB: Q3","ApoB: Q4"], "range": ["#F8766D","#7CAE00","#00BFC4","#C77CFF"]}, "legend": {"legendX": 212, "legendY": 109, "labelFontSize": 8}}
                }
              },
              {
                "data": {"name": "notes"}, "transform": [{"filter": "datum.p == 'D' && datum.k == 'p'"}],
                "mark": {"type": "text", "align": "left", "baseline": "middle", "fontSize": 8, "color": "#000000"},
                "encoding": {"x": {"field": "t", "type": "quantitative"}, "y": {"field": "s", "type": "quantitative"}, "text": {"field": "label", "type": "nominal"}}
              },
              {
                "data": {"name": "notes"}, "transform": [{"filter": "datum.p == 'D' && datum.k == 'letter'"}],
                "mark": {"type": "text", "align": "center", "baseline": "middle", "fontSize": 21, "fontWeight": "bold", "color": "#000000"},
                "encoding": {"x": {"field": "t", "type": "quantitative"}, "y": {"field": "s", "type": "quantitative"}, "text": {"field": "label", "type": "nominal"}}
              }
            ]
          },
          {
            "width": 301, "height": 32,
            "title": {"text": "Number at risk"},
            "data": {"name": "risk"}, "transform": [{"filter": "datum.p == 'D'"}],
            "mark": {"type": "text", "fontSize": 7.5, "color": "#000000", "baseline": "middle"},
            "encoding": {
              "x": {"field": "t", "type": "quantitative", "scale": {"domain": [-7.9, 165.9], "nice": false, "zero": false}, "axis": {"values": [0,15,30,45,60,75,90,105,120,135,150,165], "tickCount": 100, "labels": false, "ticks": false, "domain": false, "title": null, "grid": true, "gridColor": "#eeeeee", "gridWidth": 0.6}},
              "y": {"field": "g", "type": "nominal", "scale": {"type": "point", "padding": 0.5, "domain": ["ApoB: Q1","ApoB: Q2","ApoB: Q3","ApoB: Q4"]}, "axis": {"title": null, "ticks": false, "domain": false, "grid": false, "labelFontSize": 5, "labelPadding": 2, "labelColor": {"expr": "indexof(datum.value,'Q1')>=0 ? '#F8766D' : indexof(datum.value,'Q2')>=0 ? '#7CAE00' : indexof(datum.value,'Q3')>=0 ? '#00BFC4' : '#C77CFF'"}}},
              "text": {"field": "n", "type": "quantitative", "format": "d"}
            }
          }
        ]
      }
    ]
  }
]
}
